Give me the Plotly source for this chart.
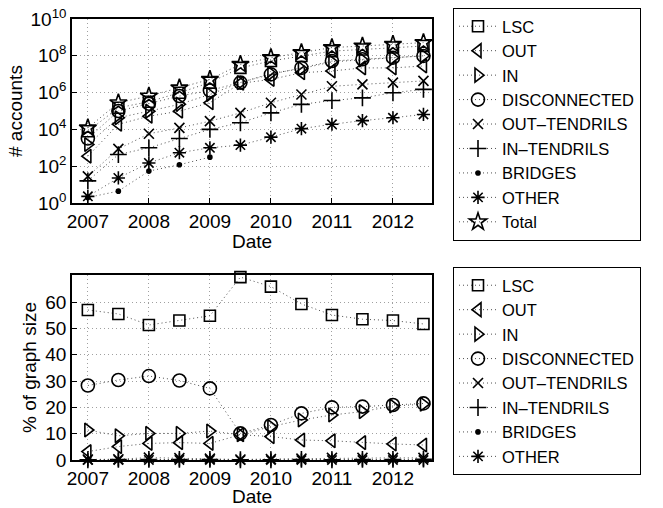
import plotly.graph_objects as go

# ---------------- data ----------------
dates = [2007.0, 2007.5, 2008.0, 2008.5, 2009.0, 2009.5,
         2010.0, 2010.5, 2011.0, 2011.5, 2012.0, 2012.5]

# number of accounts (top panel, log scale)
acc_lsc = [7.9e3, 1.5e5, 3.2e5, 9.8e5, 3.5e6, 2.2e7, 5.2e7, 9.8e7, 1.8e8, 2.2e8, 2.8e8, 3.4e8]
acc_out = [3.5e2, 1.9e4, 5.2e4, 9.8e4, 2.8e5, 3.2e6, 5.2e6, 1.2e7, 1.5e7, 2.2e7, 2.2e7, 2.8e7]
acc_in = [1.5e3, 4.3e4, 9.8e4, 2.3e5, 7.9e5, 3.5e6, 1.1e7, 2.0e7, 4.7e7, 6.0e7, 7.9e7, 1.0e8]
acc_disc = [3.2e3, 1.0e5, 2.5e5, 6.5e5, 1.3e6, 3.5e6, 9.8e6, 2.2e7, 5.2e7, 6.5e7, 7.9e7, 9.8e7]
acc_out_t = [28, 870, 5.8e3, 1.2e4, 2.8e4, 7.9e4, 2.8e5, 7.9e5, 2.2e6, 2.8e6, 3.5e6, 4.3e6]
acc_in_t = [16, 430, 1.0e3, 3.2e3, 1.0e4, 2.3e4, 7.9e4, 2.3e5, 3.7e5, 5.2e5, 9.8e5, 1.5e6]
acc_bridges = [2, 4.4, 54, 120, 310, None, None, None, None, None, None, None]
acc_other = [2.3, 23, 150, 540, 1.0e3, 1.4e3, 3.8e3, 1.1e4, 1.9e4, 3.0e4, 4.3e4, 6.5e4]
acc_total = [1.2e4, 2.8e5, 6.5e5, 1.8e6, 5.2e6, 3.4e7, 7.9e7, 1.5e8, 2.8e8, 3.4e8, 4.2e8, 5.2e8]

# percentage of graph size (bottom panel)
pct_lsc = [57.0, 55.5, 51.3, 53.0, 54.8, 69.5, 65.9, 59.3, 55.1, 53.5, 53.0, 51.7]
pct_out = [3.2, 5.1, 6.3, 6.6, 6.3, 9.6, 8.9, 7.6, 7.3, 6.6, 6.1, 5.7]
pct_in = [11.4, 9.2, 10.1, 10.1, 11.0, 9.6, 12.7, 15.2, 17.1, 18.4, 20.5, 21.2]
pct_disc = [28.3, 30.4, 31.9, 30.2, 27.2, 10.1, 13.3, 17.7, 20.0, 20.3, 20.9, 21.5]
pct_out_t = [0.2, 0.3, 0.9, 0.7, 0.5, 0.2, 0.4, 0.5, 0.8, 0.8, 0.8, 0.8]
pct_in_t = [0.1, 0.2, 0.2, 0.2, 0.2, 0.1, 0.1, 0.2, 0.1, 0.2, 0.2, 0.3]
pct_bridges = [0.0, 0.0, 0.0, 0.0, 0.0, None, None, None, None, None, None, None]
pct_other = [0.02, 0.01, 0.02, 0.03, 0.02, 0.0, 0.0, 0.0, 0.0, 0.0, 0.0, 0.0]

series_names = ["LSC", "OUT", "IN", "DISCONNECTED", "OUT\u2013TENDRILS",
                "IN\u2013TENDRILS", "BRIDGES", "OTHER", "Total"]
year_ticks = [2007, 2008, 2009, 2010, 2011, 2012]
log_tick_vals = [1, 1e2, 1e4, 1e6, 1e8, 1e10]
log_tick_text = ["10<sup>0</sup>", "10<sup>2</sup>", "10<sup>4</sup>",
                 "10<sup>6</sup>", "10<sup>8</sup>", "10<sup>10</sup>"]
pct_ticks = [0, 10, 20, 30, 40, 50, 60]

# ---------------- style ----------------
FONT = "Liberation Sans, Arial, Helvetica, sans-serif"
FS = 19
LFS = 16.5
styles = {
    "LSC": dict(symbol="square-open", size=11),
    "OUT": dict(symbol="triangle-left-open", size=12),
    "IN": dict(symbol="triangle-right-open", size=12),
    "DISCONNECTED": dict(symbol="circle-open", size=13),
    "OUT\u2013TENDRILS": dict(symbol="x-thin-open", size=10),
    "IN\u2013TENDRILS": dict(symbol="cross-thin-open", size=12),
    "BRIDGES": dict(symbol="circle", size=4),
    "OTHER": dict(symbol="asterisk-open", size=11),
    "Total": dict(symbol="star-open", size=13),
}
line_style = dict(color="rgba(60,60,60,0.9)", width=1, dash="1px,3px")

fig = go.Figure()

top_data = [acc_lsc, acc_out, acc_in, acc_disc, acc_out_t, acc_in_t,
            acc_bridges, acc_other, acc_total]
bot_data = [pct_lsc, pct_out, pct_in, pct_disc, pct_out_t, pct_in_t,
            pct_bridges, pct_other]

for name, ys in zip(series_names, top_data):
    st = styles[name]
    fig.add_trace(go.Scatter(
        x=dates, y=ys, name=name, mode="lines+markers",
        line=line_style,
        marker=dict(symbol=st["symbol"], size=st["size"], color="black",
                    line=dict(color="black", width=1.6)),
        xaxis="x", yaxis="y", legend="legend", cliponaxis=False,
        connectgaps=False,
    ))

for name, ys in zip(series_names[:-1], bot_data):
    st = styles[name]
    fig.add_trace(go.Scatter(
        x=dates, y=ys, name=name, mode="lines+markers",
        line=line_style,
        marker=dict(symbol=st["symbol"], size=st["size"], color="black",
                    line=dict(color="black", width=1.6)),
        xaxis="x2", yaxis="y2", legend="legend2", cliponaxis=False,
    ))

xdom = [72 / 663, 432 / 663]
H = 508
common_axis = dict(showline=True, linecolor="black", linewidth=1.5, mirror=True,
                   ticks="inside", ticklen=5, tickcolor="black",
                   showgrid=True, gridcolor="#a0a0a0", griddash="1px,3px",
                   gridwidth=1, zeroline=False, automargin=False,
                   tickfont=dict(family=FONT, size=FS, color="black"))

legend_common = dict(xanchor="left", yanchor="top",
                     bgcolor="white", bordercolor="black", borderwidth=1,
                     font=dict(family=FONT, size=LFS, color="black"),
                     tracegroupgap=0, itemwidth=38)

fig.update_layout(
    width=663, height=508,
    margin=dict(l=0, r=0, t=0, b=0, autoexpand=False),
    paper_bgcolor="white", plot_bgcolor="white",
    font=dict(family=FONT, size=FS, color="black"),
    showlegend=True,
    xaxis=dict(domain=xdom, range=[2006.74, 2012.64], tickvals=year_ticks,
               anchor="y", **common_axis),
    yaxis=dict(domain=[(H - 203) / H, (H - 19) / H], type="log", range=[0, 10],
               tickvals=log_tick_vals, ticktext=log_tick_text,
               anchor="x", **common_axis),
    xaxis2=dict(domain=xdom, range=[2006.74, 2012.64], tickvals=year_ticks,
                anchor="y2", **common_axis),
    yaxis2=dict(domain=[(H - 460) / H, (H - 275) / H], range=[0, 70.3],
                tickvals=pct_ticks, anchor="x2", **common_axis),
    legend=dict(x=453 / 663, y=(H - 8) / H, **legend_common),
    legend2=dict(x=453 / 663, y=(H - 267) / H, **legend_common),
    annotations=[
        dict(text="# accounts", x=16 / 663, y=(H - 111) / H, xref="paper", yref="paper",
             xanchor="center", yanchor="middle",
             textangle=-90, showarrow=False, font=dict(family=FONT, size=FS)),
        dict(text="Date", x=252 / 663, y=(H - 241) / H, xref="paper", yref="paper",
             xanchor="center", yanchor="middle",
             showarrow=False, font=dict(family=FONT, size=FS)),
        dict(text="% of graph size", x=29 / 663, y=(H - 368) / H, xref="paper", yref="paper",
             xanchor="center", yanchor="middle",
             textangle=-90, showarrow=False, font=dict(family=FONT, size=FS)),
        dict(text="Date", x=252 / 663, y=(H - 496) / H, xref="paper", yref="paper",
             xanchor="center", yanchor="middle",
             showarrow=False, font=dict(family=FONT, size=FS)),
    ],
)

fig.write_html("out.html", config={"displayModeBar": False},
               post_script="document.body.style.margin='0';document.body.style.overflow='hidden';")
